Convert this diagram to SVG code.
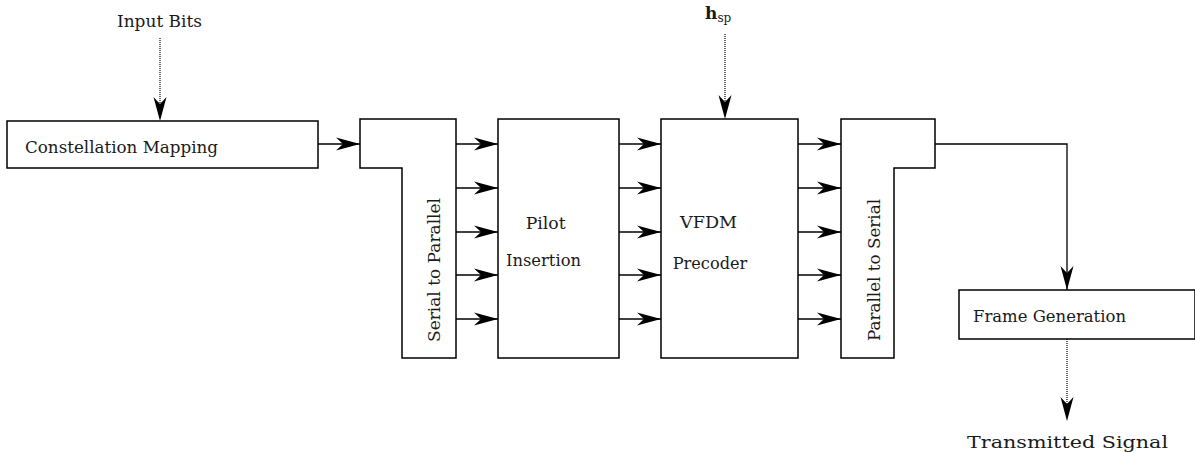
<svg xmlns="http://www.w3.org/2000/svg" width="1195" height="452" viewBox="0 0 1195 452">
<style>
.box{fill:#fff;stroke:#000;stroke-width:1.5}
.ln{fill:none;stroke:#000;stroke-width:1.3}
.dot{fill:none;stroke:#000;stroke-width:1.2;stroke-dasharray:1 1}
text{font-family:"DejaVu Serif","Liberation Serif",serif;font-size:16px;fill:#1a1a1a}
</style>
<defs>
<marker id="ah" markerUnits="userSpaceOnUse" markerWidth="30" markerHeight="20" viewBox="-26 -10 28 20" refX="0" refY="0" orient="auto">
<path d="M0,0 L-24,-6.5 L-17,0 L-24,6.5 Z" fill="#000"/>
</marker>
</defs>
<g id="connectors">
<path class="dot" d="M160,38 V105" />
<path class="ln" d="M160,104 V121" stroke-opacity="0" marker-end="url(#ah)"/>
<path class="dot" d="M725,34 V104" />
<path class="ln" d="M725,103 V119" stroke-opacity="0" marker-end="url(#ah)"/>
<path class="ln" d="M318,144 H360" marker-end="url(#ah)"/>
<path class="ln" d="M456,144 H498" marker-end="url(#ah)"/>
<path class="ln" d="M456,188 H498" marker-end="url(#ah)"/>
<path class="ln" d="M456,232 H498" marker-end="url(#ah)"/>
<path class="ln" d="M456,275 H498" marker-end="url(#ah)"/>
<path class="ln" d="M456,319 H498" marker-end="url(#ah)"/>
<path class="ln" d="M619,144 H661" marker-end="url(#ah)"/>
<path class="ln" d="M619,188 H661" marker-end="url(#ah)"/>
<path class="ln" d="M619,232 H661" marker-end="url(#ah)"/>
<path class="ln" d="M619,275 H661" marker-end="url(#ah)"/>
<path class="ln" d="M619,319 H661" marker-end="url(#ah)"/>
<path class="ln" d="M798,144 H841" marker-end="url(#ah)"/>
<path class="ln" d="M798,188 H841" marker-end="url(#ah)"/>
<path class="ln" d="M798,232 H841" marker-end="url(#ah)"/>
<path class="ln" d="M798,275 H841" marker-end="url(#ah)"/>
<path class="ln" d="M798,319 H841" marker-end="url(#ah)"/>
<path class="ln" d="M935,144 H1067 V290" marker-end="url(#ah)"/>
<path class="dot" d="M1067,339 V405" />
<path class="ln" d="M1067,404 V421" stroke-opacity="0" marker-end="url(#ah)"/>
</g>
<g id="input-bits">
<text x="117" y="27" textLength="85" lengthAdjust="spacingAndGlyphs">Input Bits</text>
</g>
<g id="h-sp">
<text x="705" y="19" style="font-weight:bold;font-size:17px">h<tspan style="font-weight:normal;font-size:12px" dy="3">sp</tspan></text>
</g>
<g id="constellation-mapping">
<rect class="box" x="7" y="121" width="311" height="47"/>
<text x="25" y="153" textLength="193" lengthAdjust="spacingAndGlyphs">Constellation Mapping</text>
</g>
<g id="serial-to-parallel">
<path class="box" d="M360,119 H456 V358 H402 V168 H360 Z"/>
<text transform="translate(439.5,342) rotate(-90)" textLength="144" lengthAdjust="spacingAndGlyphs">Serial to Parallel</text>
</g>
<g id="pilot-insertion">
<rect class="box" x="498" y="119" width="121" height="239"/>
<text x="525.7" y="229" textLength="40" lengthAdjust="spacingAndGlyphs">Pilot</text>
<text x="506" y="266" textLength="75" lengthAdjust="spacingAndGlyphs">Insertion</text>
</g>
<g id="vfdm-precoder">
<rect class="box" x="661" y="119" width="137" height="239"/>
<text x="680" y="228" textLength="57" lengthAdjust="spacingAndGlyphs">VFDM</text>
<text x="672.7" y="269" textLength="74.6" lengthAdjust="spacingAndGlyphs">Precoder</text>
</g>
<g id="parallel-to-serial">
<path class="box" d="M841,119 H935 V168 H894 V358 H841 Z"/>
<text transform="translate(879.5,341) rotate(-90)" textLength="142" lengthAdjust="spacingAndGlyphs">Parallel to Serial</text>
</g>
<g id="frame-generation">
<rect class="box" x="959" y="290" width="236" height="49"/>
<text x="973" y="322" textLength="153" lengthAdjust="spacingAndGlyphs">Frame Generation</text>
</g>
<g id="transmitted-signal">
<text x="967" y="448" textLength="201" lengthAdjust="spacingAndGlyphs">Transmitted Signal</text>
</g>
</svg>
